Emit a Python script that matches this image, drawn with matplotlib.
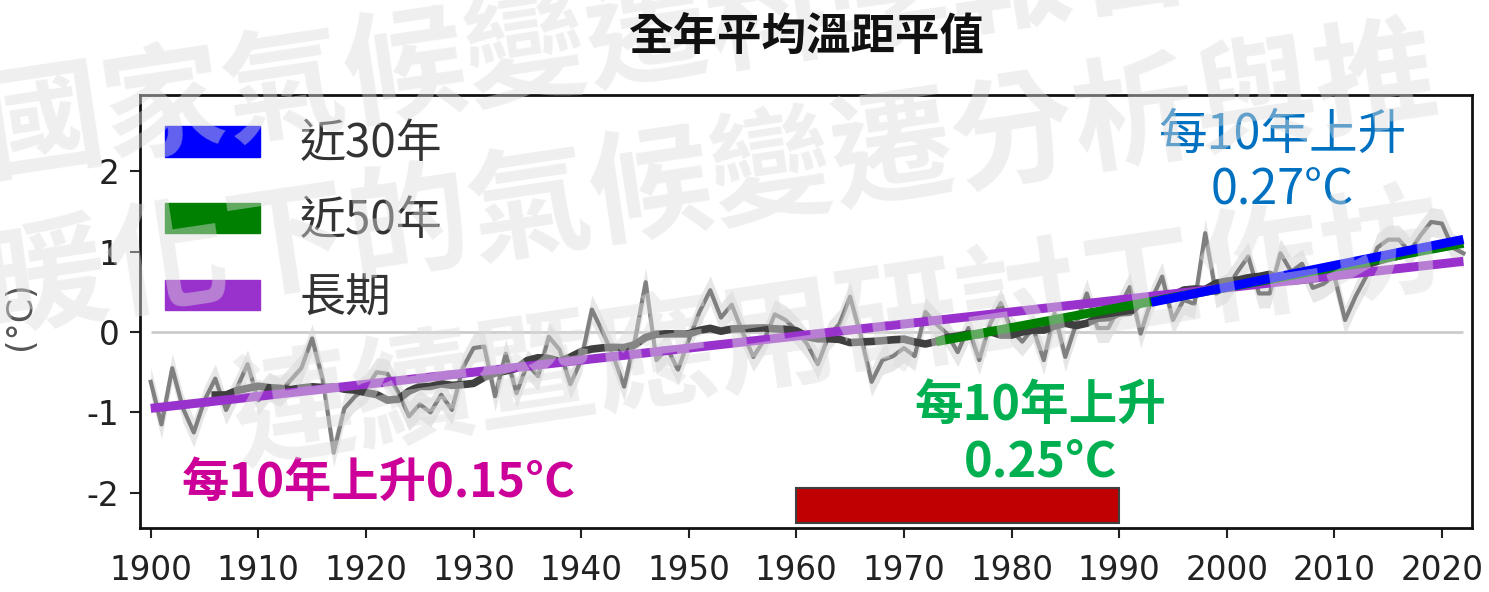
import numpy as np
import pandas as pd
import matplotlib.pyplot as plt
from matplotlib.patches import Patch, Rectangle

plt.rcParams['font.family'] = ['Noto Sans CJK TC', 'DejaVu Sans']
plt.rcParams['axes.unicode_minus'] = False

# annual mean temperature anomaly (°C), 1900-2022
years = np.arange(1900, 2023)
anom = [
    -0.62, -1.15, -0.45, -0.95, -1.25, -0.85, -0.58, -0.97, -0.70, -0.40,
    -0.85, -0.68, -0.75, -0.60, -0.45, -0.08, -0.60, -1.50, -0.95, -0.80,
    -0.70, -0.50, -0.52, -0.75, -1.05, -0.90, -1.00, -0.78, -0.97, -0.45,
    -0.20, -0.18, -0.80, -0.27, -0.76, -0.40, -0.55, -0.06, -0.22, -0.65,
    -0.35, 0.28, 0.00, -0.30, -0.68, -0.10, 0.62, -0.35, -0.20, -0.47,
    -0.10, 0.25, 0.52, 0.18, 0.34, 0.00, -0.31, -0.10, 0.22, 0.15,
    0.02, -0.15, -0.40, -0.05, 0.10, 0.44, -0.05, -0.62, -0.35, -0.30,
    -0.20, -0.30, 0.25, 0.10, -0.02, -0.25, 0.05, -0.35, 0.10, 0.36,
    0.02, -0.12, 0.05, -0.35, 0.23, -0.31, 0.10, 0.48, 0.05, 0.05,
    0.30, 0.56, -0.02, 0.40, 0.69, 0.15, 0.40, 0.35, 1.23, 0.48,
    0.55, 0.75, 0.94, 0.48, 0.48, 0.98, 0.75, 0.85, 0.55, 0.60,
    0.70, 0.15, 0.45, 0.70, 1.05, 1.15, 1.15, 1.00, 1.20, 1.37,
    1.35, 1.05, 0.98,
]
band_half = 0.18

# linear trends: label, first year, last year, value at first year, rate per decade
trend_labels = ['長期', '近50年', '近30年']
trend_start = [1900, 1973, 1993]
trend_end = [2022, 2022, 2022]
trend_v0 = [-0.95, -0.12, 0.37]
trend_rate = [0.15, 0.25, 0.27]
trend_colors = ['#9932cc', '#008000', '#0000ff']

base_years = [1960, 1990]

anom = np.array(anom)
smooth = pd.Series(anom).rolling(13, center=True).mean()

fig = plt.figure(figsize=(14.89, 5.92), dpi=100)
ax = fig.add_axes([0.094, 0.108, 0.8946, 0.7315])

ax.hlines(0, 1900, 2022, color='#cccccc', lw=2, zorder=1)
ax.fill_between(years, anom - band_half, anom + band_half, color='#d4d4d4', alpha=0.55, lw=0, zorder=2)
ax.plot(years, anom, color='#808080', lw=3, zorder=3)
ax.plot(years, smooth, color='#3f3f3f', lw=5.5, zorder=4)

for lab, y0, y1, v0, r, c in zip(trend_labels, trend_start, trend_end, trend_v0, trend_rate, trend_colors):
    xs = np.array([y0, y1])
    ax.plot(xs, v0 + r / 10 * (xs - y0), color=c, lw=6.5, solid_capstyle='butt', zorder=5)

ax.add_patch(Rectangle((base_years[0], -2.38), base_years[1] - base_years[0], 0.44,
                       facecolor='#c00000', edgecolor='#404040', lw=1.5, zorder=6))

ax.set_xlim(1899, 2022.8)
ax.set_ylim(-2.44, 2.95)
ax.set_xticks(np.arange(1900, 2021, 10))
ax.set_yticks([-2, -1, 0, 1, 2])
ax.tick_params(labelsize=23.5, length=7, width=1.5, colors='#222222',
               labelfontfamily='DejaVu Sans')
ax.tick_params(axis='x', pad=12)
ax.tick_params(axis='y', pad=8)
for s in ax.spines.values():
    s.set_linewidth(2)
    s.set_color('#111111')
ax.set_ylabel('(°C)', fontsize=25, color='#555555', family='DejaVu Sans')
ax.yaxis.set_label_coords(-0.077, 0.49)

handles = [Patch(color=trend_colors[i]) for i in [2, 1, 0]]
labels = [trend_labels[i] for i in [2, 1, 0]]
leg = ax.legend(handles, labels, loc='upper left', frameon=False, fontsize=33,
                handlelength=2.07, handleheight=0.65, handletextpad=0.87,
                labelspacing=0.62, borderaxespad=0.0, bbox_to_anchor=(0.005, 0.985))
for t in leg.get_texts():
    t.set_color('#333333')

# decadal rates
ax.text(2005.2, 2.45, '每10年上升', color='#0070c0', fontsize=35, ha='center', va='center', zorder=8)
ax.text(2005.2, 1.77, f'{trend_rate[2]:.2f}°C', color='#0070c0', fontsize=35, ha='center', va='center', zorder=8)
ax.text(1982.7, -0.91, '每10年上升', color='#00b050', fontsize=35, ha='center', va='center',
        fontweight='bold', zorder=8)
ax.text(1982.7, -1.62, f'{trend_rate[1]:.2f}°C', color='#00b050', fontsize=35, ha='center', va='center',
        fontweight='bold', zorder=8)
ax.text(1921.2, -1.88, f'每10年上升{trend_rate[0]:.2f}°C', color='#cc0099', fontsize=34, ha='center',
        va='center', fontweight='bold', zorder=8)

# watermark
wm = dict(fontsize=88, fontweight='bold', color='#dddddd', alpha=0.45, rotation=8.5,
          rotation_mode='anchor', ha='left', va='baseline', zorder=20)
fig.text(-0.008, 0.712, '國家氣候變遷科學報告', **wm)
fig.text(-0.006, 0.45, '暖化下的氣候變遷分析與推', **wm)
fig.text(0.16, 0.225, '連續暨應用研討工作坊', **wm)

fig.text(0.541, 0.9375, '全年平均溫距平值', fontsize=32, fontweight='bold', ha='center', va='center',
         color='#111111', zorder=30)

fig.savefig('out.png', dpi=100)
